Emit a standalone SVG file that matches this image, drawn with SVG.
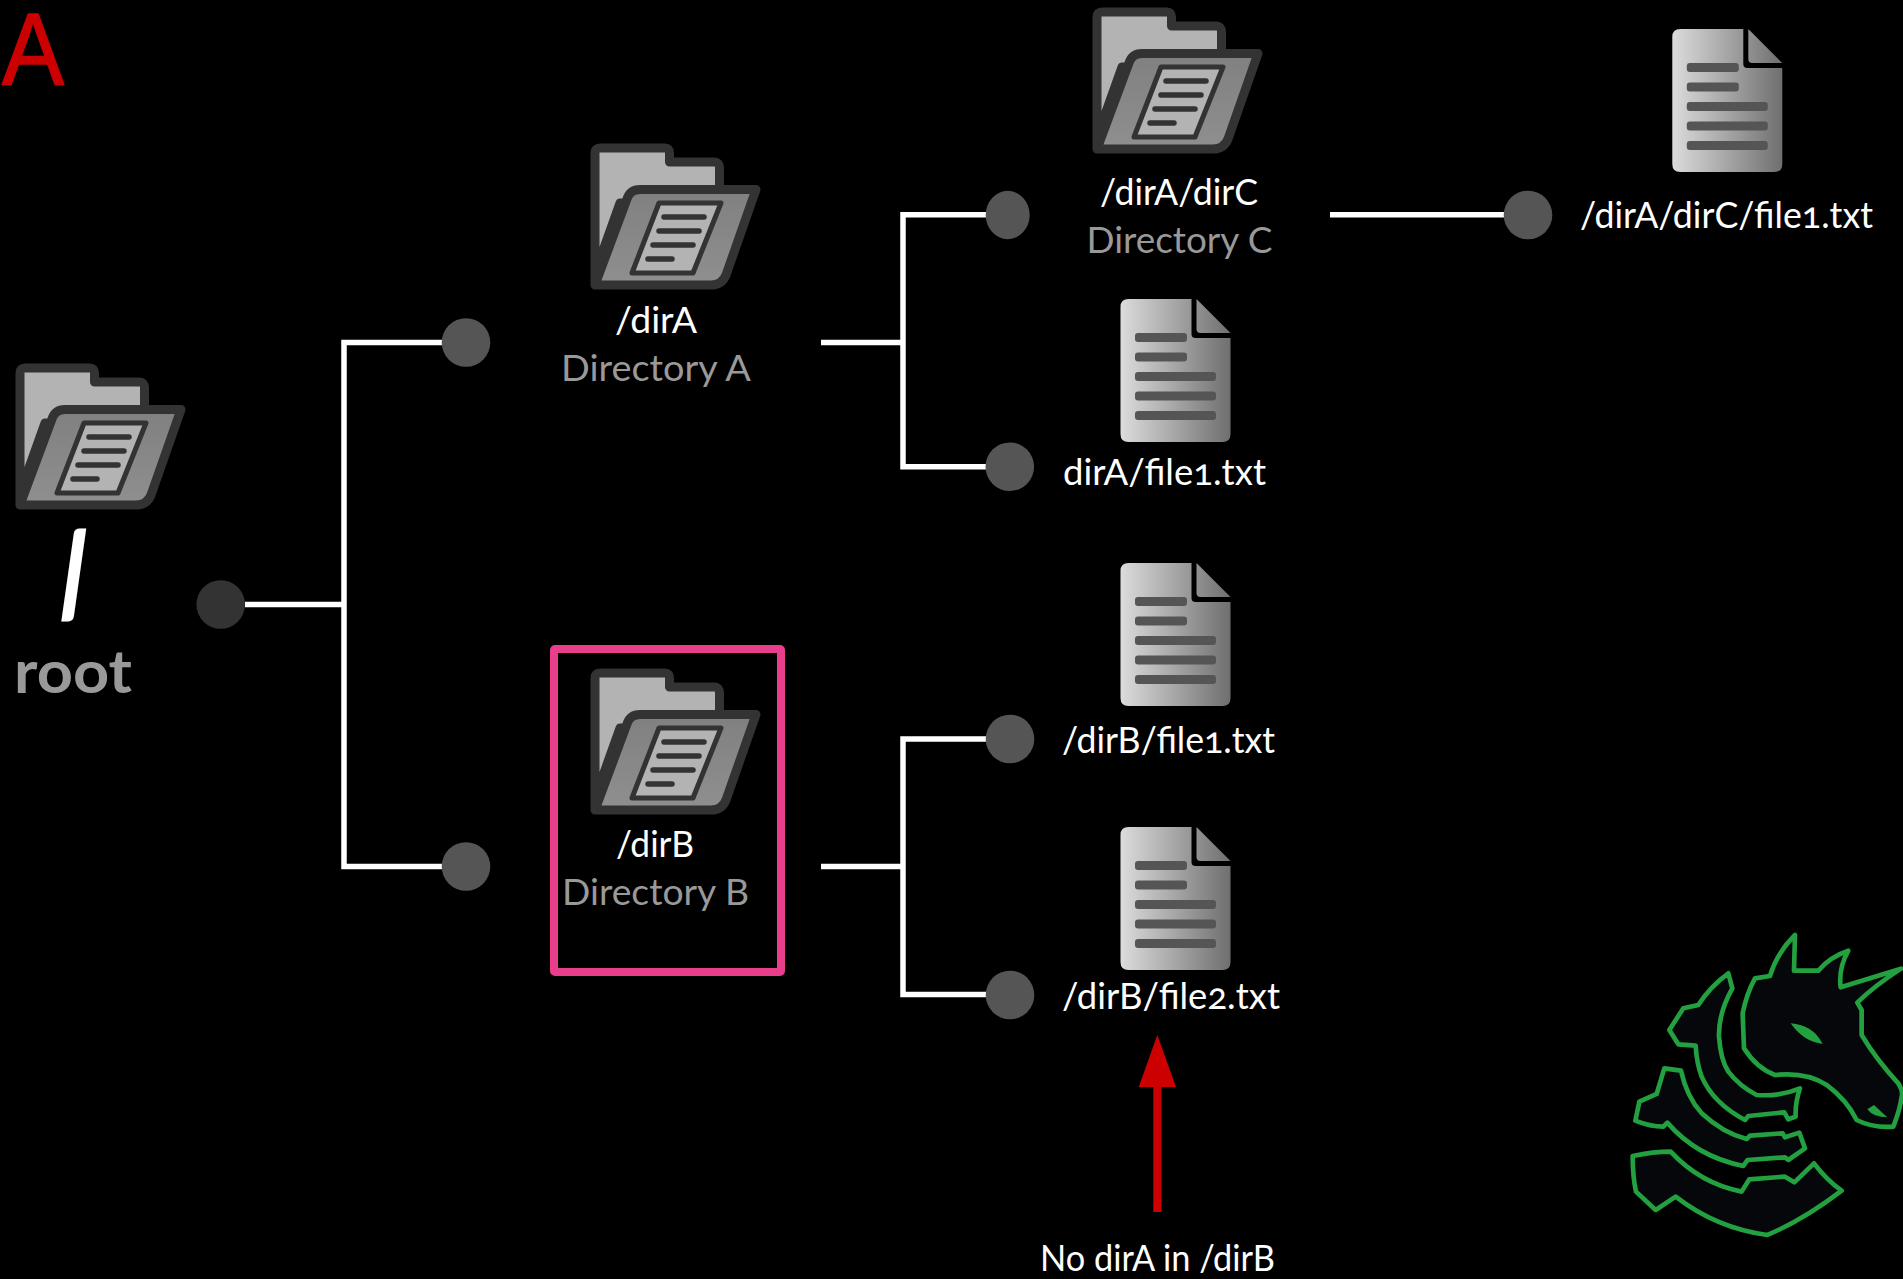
<svg xmlns="http://www.w3.org/2000/svg" width="1903" height="1279" viewBox="0 0 1903 1279">
<style>
text{font-family:Lato,"Open Sans",sans-serif;font-variant-numeric:oldstyle-nums}
.t{fill:#fff;font-size:36px}
.s{fill:#999;font-size:37px}
.c{fill:#555}
.w{fill:none;stroke:#fff;stroke-width:5.500}
.logo{fill:#05070a;stroke:#23a03f;stroke-width:14;stroke-linejoin:round}
</style>
<defs>
<linearGradient id="fg" x1="0" y1="0" x2="0" y2="1"><stop offset="0" stop-color="#808080"/><stop offset="1" stop-color="#8f8f8f"/></linearGradient>
<linearGradient id="dg" gradientUnits="userSpaceOnUse" x1="0" y1="0" x2="110" y2="0"><stop offset="0" stop-color="#dcdcdc"/><stop offset="1" stop-color="#6f6f6f"/></linearGradient>
<g id="folder">
<path d="M5,140V10Q5,5 10,5H75Q79.500,5 79.500,10V19H124Q129.500,19 129.500,25V60H30L5,130Z" fill="#b3b3b3" stroke="#333" stroke-width="9" stroke-linejoin="round"/>
<path d="M5,142L37,56Q40,46.500 50,46.500H166L136,132Q132,142 121,142Z" fill="url(#fg)" stroke="#333" stroke-width="9" stroke-linejoin="round"/>
<path d="M69,60H131L103,130H42Z" fill="#b3b3b3" stroke="#333" stroke-width="5" stroke-linejoin="round"/>
<path d="M74,74H114M69,88H109M63,102H103M58,116H82" fill="none" stroke="#333" stroke-width="5.500" stroke-linecap="round"/>
</g>
<g id="file">
<path d="M8,0H71V35Q71,39 75,39H110V135Q110,143 102,143H8Q0,143 0,135V8Q0,0 8,0Z" fill="url(#dg)"/>
<path d="M76,0L110,34H80Q76,34 76,30Z" fill="url(#dg)"/>
<g fill="#555"><rect x="14.500" y="34" width="52" height="9" rx="3"/><rect x="14.500" y="53.500" width="52" height="9" rx="3"/><rect x="14.500" y="73" width="81" height="9" rx="3"/><rect x="14.500" y="92.500" width="81" height="9" rx="3"/><rect x="14.500" y="112" width="81" height="9" rx="3"/></g>
</g>
</defs>
<rect width="1903" height="1279" fill="#000"/>
<g id="connectors">
<path class="w" d="M245,604.500H344M446,342.500H344V866.500H446"/>
<path class="w" d="M821,342.500H903M988,214.700H903V466.700H988"/>
<path class="w" d="M821,866.500H903M988,739H903V994.500H988"/>
<path class="w" d="M1330,214.700H1508"/>
<rect x="1153.300" y="1086" width="8" height="126" fill="#c00"/>
<polygon points="1157.300,1035 1176,1087 1138.700,1087" fill="#c00"/>
</g>
<text id="label-a" x="2" y="85" font-size="102" fill="#c00" stroke="#c00" stroke-width="1.500" style="font-family:'Liberation Sans',sans-serif" textLength="62" lengthAdjust="spacingAndGlyphs">A</text>
<g id="root">
<use href="#folder" x="15" y="363"/>
<text transform="translate(84 616) skewX(14)" font-size="118" font-weight="700" fill="#fff" text-anchor="middle">/</text>
<text x="14" y="693" font-size="60" font-weight="700" fill="#999" textLength="118" lengthAdjust="spacingAndGlyphs">root</text>
<circle cx="220.700" cy="604.500" r="24.300" fill="#333"/>
</g>
<g id="dirA">
<circle class="c" cx="466" cy="342.500" r="24.300"/>
<use href="#folder" x="590" y="143"/>
<text class="t" x="615" y="333" textLength="82" lengthAdjust="spacingAndGlyphs">/dirA</text>
<text class="s" x="561" y="381" textLength="190" lengthAdjust="spacingAndGlyphs">Directory A</text>
</g>
<g id="dirB">
<circle class="c" cx="466" cy="866.500" r="24.300"/>
<rect x="554" y="649" width="227" height="323" rx="1" fill="none" stroke="#e83e8c" stroke-width="8"/>
<use href="#folder" x="590" y="668"/>
<text class="t" x="616" y="857" textLength="78" lengthAdjust="spacingAndGlyphs">/dirB</text>
<text class="s" x="562" y="905" textLength="187" lengthAdjust="spacingAndGlyphs">Directory B</text>
</g>
<g id="dirC">
<ellipse class="c" cx="1007.700" cy="215" rx="22" ry="24.200"/>
<use href="#folder" x="1092" y="7"/>
<text class="t" x="1100" y="205" textLength="158" lengthAdjust="spacingAndGlyphs">/dirA/dirC</text>
<text class="s" x="1086.500" y="253" textLength="186" lengthAdjust="spacingAndGlyphs">Directory C</text>
</g>
<g id="fileA1">
<circle class="c" cx="1009.800" cy="466.700" r="24.300"/>
<use href="#file" x="1120.500" y="299"/>
<text class="t" x="1063" y="485" textLength="203" lengthAdjust="spacingAndGlyphs">dirA/file1.txt</text>
</g>
<g id="fileB1">
<circle class="c" cx="1010" cy="739" r="24.300"/>
<use href="#file" x="1120.500" y="563"/>
<text class="t" x="1062" y="753" textLength="213" lengthAdjust="spacingAndGlyphs">/dirB/file1.txt</text>
</g>
<g id="fileB2">
<circle class="c" cx="1010" cy="995" r="24.300"/>
<use href="#file" x="1120.500" y="827"/>
<text class="t" x="1062" y="1009" textLength="218" lengthAdjust="spacingAndGlyphs">/dirB/file2.txt</text>
</g>
<g id="fileC1">
<circle class="c" cx="1528" cy="215" r="24.300"/>
<use href="#file" x="1672.300" y="29"/>
<text class="t" x="1580" y="228" textLength="293" lengthAdjust="spacingAndGlyphs">/dirA/dirC/file1.txt</text>
</g>
<text id="note" class="t" x="1040" y="1271" textLength="235" lengthAdjust="spacingAndGlyphs">No dirA in /dirB</text>
<g id="logo" transform="translate(1600 900) scale(.3333)">
<path class="logo" d="M585,105L582,212L655,212Q690,170 745,152Q715,205 722,262L903,206Q820,260 772,308L785,330V405Q830,480 895,550Q910,575 905,590Q900,630 880,680Q820,685 770,660Q740,600 680,555Q620,515 525,525Q470,505 432,445L428,340Q440,280 465,235L510,228Q530,160 585,105Z"/>
<path d="M572,370Q640,375 668,432Q610,425 572,370ZM802,628L822,615L862,652Q820,652 802,628Z" fill="#23a03f"/>
<path class="logo" d="M385,220L397,265Q355,340 357,410Q362,480 385,515Q420,560 470,585Q540,590 600,565Q585,610 587,650L565,658L553,637L445,648L435,660Q340,610 305,530Q290,490 287,437L235,433L208,390L250,325L295,315Q330,260 385,220Z"/>
<path class="logo" d="M193,505L243,512Q260,590 305,640Q370,700 440,717L450,707L548,700L555,712L598,698L615,745L565,780L555,772L443,780L430,798Q290,770 202,668L190,680Q150,680 106,662L118,605L170,582Z"/>
<path class="logo" d="M98,768Q160,755 212,755Q300,850 425,875L448,838L555,830L583,847L642,790Q680,840 725,872Q610,960 502,1005Q350,985 227,890L167,930L108,875Q98,830 98,768Z"/>
</g>
</svg>
